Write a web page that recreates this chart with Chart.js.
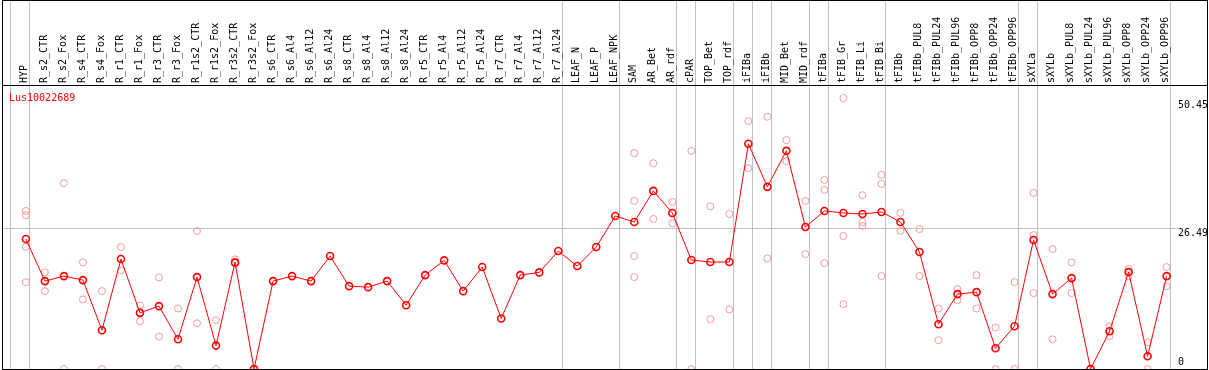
<!DOCTYPE html>
<html>
<head>
<meta charset="utf-8">
<script src="https://cdn.jsdelivr.net/npm/chart.js@4"></script>
<style>
  body { margin: 0; background: #fff; }
  #wrap { position: relative; width: 1209px; height: 370px; }
  #frame { position: absolute; left: 2px; top: 0; width: 1206px; height: 370px; box-sizing: border-box; border: 1px solid #000; pointer-events: none; }
  #sep { position: absolute; left: 2px; top: 85px; width: 1206px; height: 1px; background: #000; pointer-events: none; }
</style>
</head>
<body>
<div id="wrap">
  <canvas id="chart" width="1209" height="370"></canvas>
  <div id="sep"></div>
  <div id="frame"></div>
</div>
<script>
// sample names, left to right
const categories = [
    'HYP', 'R_s2_CTR', 'R_s2_Fox', 'R_s4_CTR', 'R_s4_Fox', 'R_r1_CTR', 'R_r1_Fox', 'R_r3_CTR', 'R_r3_Fox',
    'R_r1s2_CTR', 'R_r1s2_Fox', 'R_r3s2_CTR', 'R_r3s2_Fox', 'R_s6_CTR', 'R_s6_Al4', 'R_s6_Al12', 'R_s6_Al24',
    'R_s8_CTR', 'R_s8_Al4', 'R_s8_Al12', 'R_s8_Al24', 'R_r5_CTR', 'R_r5_Al4', 'R_r5_Al12', 'R_r5_Al24',
    'R_r7_CTR', 'R_r7_Al4', 'R_r7_Al12', 'R_r7_Al24', 'LEAF_N', 'LEAF_P', 'LEAF_NPK', 'SAM', 'AR_Bet', 'AR_rdf',
    'cPAR', 'TOP_Bet', 'TOP_rdf', 'iFIBa', 'iFIBb', 'MID_Bet', 'MID_rdf', 'tFIBa', 'tFIB_Gr', 'tFIB_Li', 'tFIB_Bi',
    'tFIBb', 'tFIBb_PUL8', 'tFIBb_PUL24', 'tFIBb_PUL96', 'tFIBb_OPP8', 'tFIBb_OPP24', 'tFIBb_OPP96',
    'sXYLa', 'sXYLb', 'sXYLb_PUL8', 'sXYLb_PUL24', 'sXYLb_PUL96', 'sXYLb_OPP8', 'sXYLb_OPP24', 'sXYLb_OPP96'
];

// mean expression (the connected line)
const meanValues = [
    24.42, 16.51, 17.45, 16.70, 7.29, 20.66, 10.55, 11.81, 5.59, 17.27, 4.40, 20.03, 0,
    16.51, 17.45, 16.51, 21.22, 15.57, 15.38, 16.51, 11.99, 17.64, 20.41, 14.63, 19.15,
    9.49, 17.64, 18.15, 22.16, 19.34, 22.91, 28.75, 27.62, 33.46, 29.32, 20.47, 20.10, 20.10,
    42.31, 34.22, 40.99, 26.68, 29.69, 29.32, 29.13, 29.50, 27.62, 21.97, 8.42, 14.07, 14.44,
    3.90, 8.04, 24.23, 14.07, 17.08, 0, 7.10, 18.21, 2.39, 17.45
];

// individual replicates (null = no such replicate)
const rep1 = [
    29.69, 18.15, 34.91, 20.03, 14.63, 22.91, 11.93, 17.20, 11.37, 25.93, 9.17, 20.60, 0,
    null, null, null, null, null, null, null, null, null, null, null, null, null, null, null, null,
    null, null, null, 40.56, 38.67, 31.39, 40.99, 30.58, 29.13, 46.58, 47.39, 43.00, 31.58,
    35.53, 50.91, 32.65, 36.47, 29.32, 26.30, 11.37, 15.00, 17.64, 7.79, 16.32,
    33.08, 22.54, 20.03, 0, 8.04, 18.77, 5.03, 19.15
];
const rep2 = [
    28.88, 14.63, 0, 13.07, 0, 18.52, 8.98, 6.10, 0, 8.60, 0, 19.85, 0,
    null, null, null, null, null, null, null, null, null, null, null, null, null, null, null, null,
    null, null, null, 31.58, 28.19, 27.38, 0, 9.36, 11.18, 37.73, 20.78, 39.05, 21.60,
    33.65, 24.99, 27.62, 34.78, 25.93, 17.45, 5.40, 12.94, 11.37, 0, 0,
    25.17, 5.59, 14.25, 0, 6.21, 17.45, 0, 15.57
];
const rep3 = [
    22.97, null, null, null, null, null, null, null, null, null, null, null, null,
    null, null, null, null, null, null, null, null, null, null, null, null, null, null, null, null,
    null, null, null, 21.22, null, null, null, null, null, null, null, null, null,
    19.90, 12.18, 26.87, 17.45, null, null, null, null, null, null, null,
    14.25, null, null, null, null, null, null, null
];
const rep4 = [
    16.32, null, null, null, null, null, null, null, null, null, null, null, null,
    null, null, null, null, null, null, null, null, null, null, null, null, null, null, null, null,
    null, null, null, 17.27, null, null, null, null, null, null, null, null, null,
    null, null, null, null, null, null, null, null, null, null, null,
    null, null, null, null, null, null, null, null
];

// last sample index of each group (vertical separators)
const groupEnds = [-1, 0, 28, 31, 34, 35, 37, 38, 39, 41, 42, 45, 52, 53, 60];

// value axis labels
const yTicks = [0, 26.49, 50.45];

const seriesName = 'Lus10022689';

const X_MIN = -1.257;
const X_MAX = 60.23;
const Y_MAX = 53.17;
const GRID = '#c0c0c0';

function toPoints(arr) {
    const pts = [];
    arr.forEach((v, i) => { if (v !== null) pts.push({ x: i, y: v }); });
    return pts;
}

// fixed axis size, and no extra padding for overhanging labels
function fixSize(w, h) {
    return (scale) => {
        if (w !== null) scale.width = w;
        if (h !== null) scale.height = h;
        scale.paddingLeft = 0;
        scale.paddingRight = 0;
        scale.paddingTop = 0;
        scale.paddingBottom = 0;
    };
}

Chart.defaults.font.family = '"DejaVu Sans Mono", monospace';
Chart.defaults.font.size = 10;
Chart.defaults.color = '#000';

const repStyle = {
    showLine: false,
    pointRadius: 3.5,
    pointBorderWidth: 1,
    pointBorderColor: '#f09a9a',
    pointBackgroundColor: 'rgba(0,0,0,0)',
    borderColor: '#f09a9a'
};

// series name in the top left corner of the plot
const nameLabel = {
    id: 'nameLabel',
    afterDraw(chart) {
        const ctx = chart.ctx;
        ctx.save();
        ctx.font = '10px "DejaVu Sans Mono", monospace';
        ctx.fillStyle = '#ff0000';
        ctx.textBaseline = 'alphabetic';
        ctx.fillText(seriesName, chart.chartArea.left + 7, chart.chartArea.top + 15);
        ctx.restore();
    }
};

new Chart(document.getElementById('chart'), {
    type: 'line',
    data: {
        datasets: [
            {
                label: seriesName,
                data: toPoints(meanValues),
                borderColor: '#ff0000',
                borderWidth: 1,
                tension: 0,
                pointRadius: 3.5,
                pointBorderWidth: 1.6,
                pointBorderColor: '#ff0000',
                pointBackgroundColor: 'rgba(0,0,0,0)'
            },
            Object.assign({ label: 'rep1', data: toPoints(rep1) }, repStyle),
            Object.assign({ label: 'rep2', data: toPoints(rep2) }, repStyle),
            Object.assign({ label: 'rep3', data: toPoints(rep3) }, repStyle),
            Object.assign({ label: 'rep4', data: toPoints(rep4) }, repStyle)
        ]
    },
    options: {
        responsive: false,
        animation: false,
        devicePixelRatio: 1,
        layout: { autoPadding: false, padding: { left: 2, right: 0, top: 0, bottom: 1 } },
        plugins: {
            legend: { display: false },
            tooltip: { enabled: false }
        },
        scales: {
            // sample names (header band)
            xLab: {
                type: 'linear',
                position: 'top',
                weight: 1,
                min: X_MIN,
                max: X_MAX,
                afterBuildTicks: (scale) => {
                    scale.ticks = categories.map((c, i) => ({ value: i }));
                },
                afterFit: fixSize(null, 86),
                grid: { display: false, drawTicks: false },
                border: { display: false },
                ticks: {
                    autoSkip: false,
                    minRotation: 90,
                    maxRotation: 90,
                    padding: 3,
                    labelOffset: 11,
                    callback: (v) => categories[v]
                }
            },
            // group separators, running up through the header too
            x: {
                type: 'linear',
                position: 'top',
                weight: 0,
                min: X_MIN,
                max: X_MAX,
                afterBuildTicks: (scale) => {
                    scale.ticks = groupEnds.map(k => ({ value: k + 0.21 }));
                },
                afterFit: fixSize(null, 0),
                grid: { color: GRID, lineWidth: 1, tickLength: 86, drawTicks: true },
                border: { display: false },
                ticks: { display: false }
            },
            y: {
                type: 'linear',
                position: 'right',
                min: 0,
                max: Y_MAX,
                afterBuildTicks: (scale) => {
                    scale.ticks = yTicks.map(v => ({ value: v }));
                },
                afterFit: fixSize(38, null),
                grid: {
                    color: (ctx) => (ctx.tick && ctx.tick.value === yTicks[1]) ? GRID : 'rgba(0,0,0,0)',
                    tickLength: 7
                },
                border: { display: false },
                ticks: {
                    padding: 0,
                    labelOffset: 5,
                    // the zero label sits above its line, the others below
                    callback: (v) => v === 0 ? ['0', '', ''] : v.toFixed(2)
                }
            }
        }
    },
    plugins: [nameLabel]
});
</script>
</body>
</html>
